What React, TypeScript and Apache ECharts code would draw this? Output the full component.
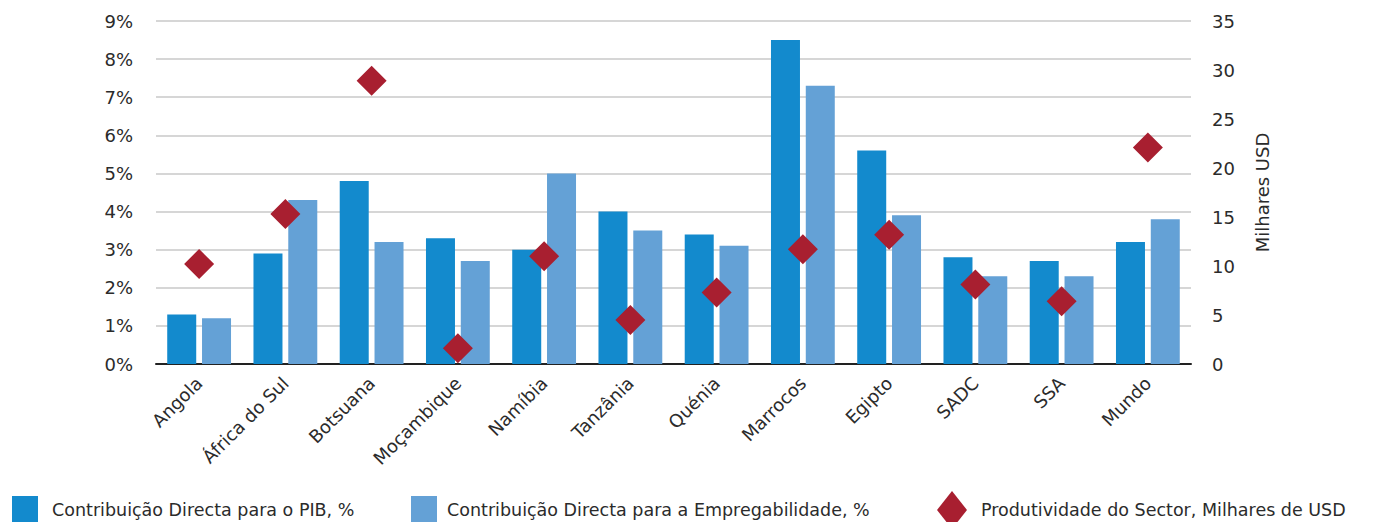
import React, { useEffect, useRef } from "react";
import * as echarts from "echarts";

const categories = ["Angola", "África do Sul", "Botsuana", "Moçambique", "Namíbia", "Tanzânia", "Quénia", "Marrocos", "Egipto", "SADC", "SSA", "Mundo"];
const pibValues = [1.3, 2.9, 4.8, 3.3, 3.0, 4.0, 3.4, 8.5, 5.6, 2.8, 2.7, 3.2];
const empValues = [1.2, 4.3, 3.2, 2.7, 5.0, 3.5, 3.1, 7.3, 3.9, 2.3, 2.3, 3.8];
const prodValues = [10.2, 15.3, 28.9, 1.6, 11.0, 4.5, 7.3, 11.7, 13.2, 8.1, 6.4, 22.1];
const seriesNames = [
  "Contribuição Directa para o PIB, %",
  "Contribuição Directa para a Empregabilidade, %",
  "Produtividade do Sector, Milhares de USD",
];

const FONT = "'DejaVu Sans', 'Noto Sans', sans-serif";
const TXT = "#2b2b2b";
const FS = 18;

export default function App() {
  const ref = useRef<HTMLDivElement>(null);
  useEffect(() => {
    document.body.style.margin = "0";
    const chart = echarts.init(ref.current!, null, { renderer: "svg" });
    const legendText = { fontSize: 17.5, color: TXT, fontFamily: FONT };
    chart.setOption({
      animation: false,
      textStyle: { fontFamily: FONT, color: TXT },
      grid: { left: 156, right: 182, top: 21, bottom: 158 },
      legend: [
        { data: [seriesNames[0]], left: 12, top: 496, padding: 0, itemWidth: 26, itemHeight: 28, icon: "rect", textStyle: { ...legendText, padding: [4, 0, 0, 9] } },
        { data: [seriesNames[1]], left: 411, top: 496, padding: 0, itemWidth: 26, itemHeight: 28, icon: "rect", textStyle: { ...legendText, padding: [4, 0, 0, 5] } },
        { data: [seriesNames[2]], left: 937, top: 491, padding: 0, itemWidth: 30, itemHeight: 38, icon: "diamond", textStyle: { ...legendText, padding: [6, 0, 0, 9] } },
      ],
      xAxis: {
        type: "category",
        data: categories,
        axisLine: { lineStyle: { color: "#222", width: 2 } },
        axisTick: { show: false },
        axisLabel: { rotate: 45, fontSize: FS, color: TXT, margin: 16, interval: 0 },
      },
      yAxis: [
        {
          type: "value",
          min: 0,
          max: 0.09,
          interval: 0.01,
          axisLine: { show: false },
          axisTick: { show: false },
          splitLine: { lineStyle: { color: "#c9c9c9", width: 1.5 } },
          axisLabel: { fontSize: FS, color: TXT, margin: 23, formatter: (v: number) => Math.round(v * 100) + "%" },
        },
        {
          type: "value",
          min: 0,
          max: 35,
          interval: 5,
          position: "right",
          name: "Milhares USD",
          nameLocation: "middle",
          nameRotate: 90,
          nameGap: 62,
          nameTextStyle: { fontSize: FS, color: TXT },
          axisLine: { show: false },
          axisTick: { show: false },
          splitLine: { show: false },
          axisLabel: { fontSize: FS, color: TXT, margin: 21 },
        },
      ],
      series: [
        {
          name: seriesNames[0],
          type: "bar",
          data: pibValues.map((v) => v / 100),
          barWidth: 29,
          barGap: "20%",
          itemStyle: { color: "#138ACD" },
        },
        {
          name: seriesNames[1],
          type: "bar",
          data: empValues.map((v) => v / 100),
          barWidth: 29,
          barGap: "20%",
          itemStyle: { color: "#64A1D6" },
        },
        {
          name: seriesNames[2],
          type: "scatter",
          yAxisIndex: 1,
          data: prodValues,
          symbol: "diamond",
          symbolSize: [30, 30],
          itemStyle: { color: "#A81F30", opacity: 1 },
          z: 5,
        },
      ],
    });
    return () => chart.dispose();
  }, []);
  return <div ref={ref} style={{ width: 1373, height: 522 }} />;
}
